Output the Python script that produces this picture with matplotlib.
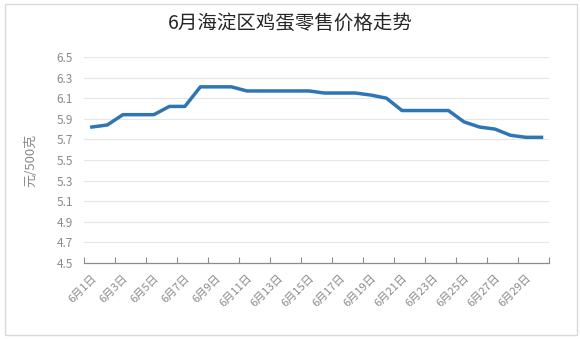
import matplotlib.pyplot as plt
import matplotlib.patches as mpatches
import numpy as np

plt.rcParams['font.family'] = ['Noto Sans CJK SC', 'DejaVu Sans']

# ── Data ──────────────────────────────────────────────────────────────
days = [f"6月{d}日" for d in range(1, 31)]
prices = [5.82, 5.84, 5.94, 5.94, 5.94, 6.02, 6.02, 6.21, 6.21, 6.21,
          6.17, 6.17, 6.17, 6.17, 6.17, 6.15, 6.15, 6.15, 6.13, 6.10,
          5.98, 5.98, 5.98, 5.98, 5.87, 5.82, 5.80, 5.74, 5.72, 5.72]
y_ticks = [4.5, 4.7, 4.9, 5.1, 5.3, 5.5, 5.7, 5.9, 6.1, 6.3, 6.5]

TICK_GREY = "#8a8a8a"

fig = plt.figure(figsize=(5.8, 3.39), dpi=100)
ax = fig.add_axes([0.145, 0.224, 0.802, 0.608])

x = np.arange(1, len(days) + 1)
ax.plot(x, prices, color="#2E75B6", lw=2.5, solid_joinstyle="round", zorder=3)

ax.set_xlim(0.5, len(days) + 0.5)
ax.set_ylim(4.5, 6.5)
ax.set_yticks(y_ticks)
ax.set_yticklabels([f"{v:.1f}" for v in y_ticks])
ax.grid(axis="y", color="#e6e6e6", lw=0.8, zorder=0)

# tick marks between categories, every 2 days
ax.set_xticks(np.arange(0.5, len(days) + 1, 2), minor=False)
ax.set_xticklabels([])
ax.set_xticks(x[::2], minor=True)
ax.set_xticklabels(days[::2], minor=True, rotation=45, ha="right",
                   rotation_mode="anchor", fontsize=8, color=TICK_GREY)
ax.tick_params(axis="x", which="minor", length=0, pad=7)
ax.tick_params(axis="x", which="major", direction="in", length=4,
               color="#8c8c8c", width=0.8)
ax.tick_params(axis="y", length=0, labelsize=8.5, labelcolor=TICK_GREY, pad=8)

for s in ["top", "right", "left"]:
    ax.spines[s].set_visible(False)
ax.spines["bottom"].set_color("#8c8c8c")
ax.spines["bottom"].set_linewidth(0.9)

ax.set_ylabel("元/500克", fontsize=9.5, color=TICK_GREY, labelpad=14)
fig.text(0.5, 0.93, "6月海淀区鸡蛋零售价格走势", ha="center", va="center",
         fontsize=14, color="#262626")

# outer chart border
fig.patches.append(mpatches.Rectangle((0.008, 0.012), 0.986, 0.975,
                                      transform=fig.transFigure, fill=False,
                                      edgecolor="#d9d9d9", lw=1))

fig.savefig("out.png", dpi=100)
